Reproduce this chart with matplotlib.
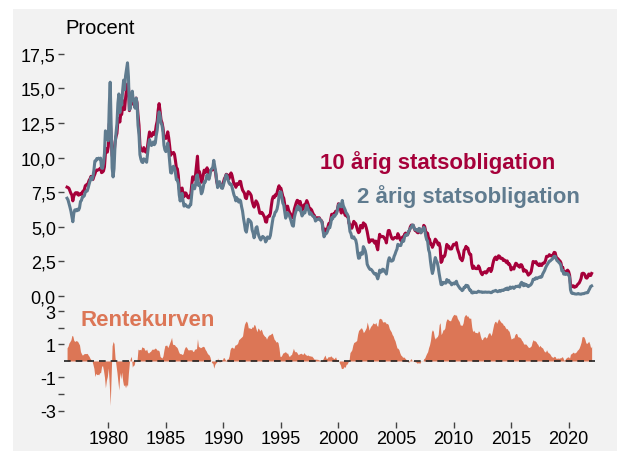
import numpy as np
import pandas as pd
import matplotlib
matplotlib.use('Agg')
import matplotlib.pyplot as plt
import matplotlib.dates as mdates
from matplotlib.patches import Rectangle

# monthly yields, jun 1976 - jan 2022 (procent)
y10 = [
    7.86, 7.83, 7.77, 7.59, 7.41, 7.29, 6.87,                                  # 1976
    7.21, 7.39, 7.46, 7.37, 7.46, 7.28, 7.33, 7.40, 7.34, 7.52, 7.58, 7.69,    # 1977
    7.96, 8.03, 8.04, 8.15, 8.35, 8.46, 8.64, 8.41, 8.42, 8.64, 8.81, 9.01,    # 1978
    9.10, 9.10, 9.12, 9.18, 9.25, 8.91, 8.95, 9.03, 9.33, 10.30, 10.65, 10.39, # 1979
    10.80, 12.41, 12.75, 11.47, 10.18, 9.78, 10.25, 11.10, 11.51, 11.75, 12.68, 12.84,
    12.57, 13.19, 13.12, 13.68, 14.10, 13.47, 14.28, 14.94, 15.32, 15.15, 13.39, 13.72,
    14.59, 14.43, 13.86, 13.87, 13.62, 14.30, 13.95, 13.06, 12.34, 10.91, 10.55, 10.54,
    10.46, 10.72, 10.51, 10.40, 10.38, 10.85, 11.38, 11.85, 11.65, 11.54, 11.69, 11.83,
    11.67, 11.84, 12.32, 12.63, 13.41, 13.90, 13.36, 12.72, 12.52, 12.16, 11.57, 11.50,
    11.38, 11.51, 11.86, 11.43, 10.85, 10.16, 10.31, 10.33, 10.37, 10.24, 9.78, 9.26,
    9.19, 8.70, 7.78, 7.30, 7.71, 7.80, 7.30, 7.17, 7.45, 7.43, 7.25, 7.11,
    7.08, 7.25, 7.25, 8.02, 8.61, 8.40, 8.45, 8.76, 9.42, 10.10, 8.86, 8.99,
    8.67, 8.21, 8.37, 8.72, 9.09, 8.92, 9.06, 9.26, 8.98, 8.80, 8.96, 9.11,
    9.09, 9.17, 9.36, 9.18, 8.86, 8.28, 8.02, 8.11, 8.19, 8.01, 7.87, 7.84,
    8.21, 8.47, 8.59, 8.79, 8.76, 8.48, 8.47, 8.75, 8.89, 8.72, 8.39, 8.08,
    8.09, 7.85, 8.11, 8.04, 8.07, 8.28, 8.27, 7.90, 7.65, 7.53, 7.42, 7.09,
    7.03, 7.34, 7.54, 7.48, 7.39, 7.26, 6.84, 6.59, 6.42, 6.59, 6.87, 6.77,
    6.60, 6.26, 5.98, 5.97, 6.04, 5.96, 5.81, 5.68, 5.36, 5.33, 5.72, 5.77,
    5.75, 5.97, 6.48, 6.97, 7.18, 7.10, 7.30, 7.24, 7.46, 7.74, 7.96, 7.81,
    7.78, 7.47, 7.20, 7.06, 6.63, 6.17, 6.28, 6.49, 6.20, 6.04, 5.93, 5.71,
    5.65, 5.81, 6.27, 6.51, 6.74, 6.91, 6.87, 6.64, 6.83, 6.53, 6.20, 6.30,
    6.58, 6.42, 6.69, 6.89, 6.71, 6.49, 6.22, 6.30, 6.21, 6.03, 5.88, 5.81,
    5.54, 5.57, 5.65, 5.64, 5.65, 5.50, 5.46, 5.34, 4.81, 4.53, 4.83, 4.65,
    4.72, 5.00, 5.23, 5.18, 5.54, 5.90, 5.79, 5.94, 5.92, 6.11, 6.03, 6.28,
    6.66, 6.52, 6.26, 5.99, 6.44, 6.10, 6.05, 5.83, 5.80, 5.74, 5.72, 5.24,
    5.16, 5.10, 4.89, 5.14, 5.39, 5.28, 5.24, 4.97, 4.73, 4.57, 4.65, 5.09,
    5.04, 4.91, 5.28, 5.21, 5.16, 4.93, 4.65, 4.26, 3.87, 3.94, 4.05, 4.03,
    4.05, 3.90, 3.81, 3.96, 3.57, 3.33, 3.98, 4.45, 4.27, 4.29, 4.30, 4.27,
    4.15, 4.08, 3.83, 4.35, 4.72, 4.73, 4.50, 4.28, 4.13, 4.10, 4.19, 4.23,
    4.22, 4.17, 4.50, 4.34, 4.14, 4.00, 4.18, 4.26, 4.20, 4.46, 4.54, 4.47,
    4.42, 4.57, 4.72, 4.99, 5.11, 5.11, 5.09, 4.88, 4.72, 4.73, 4.60, 4.56,
    4.76, 4.72, 4.56, 4.69, 4.75, 5.10, 5.00, 4.67, 4.52, 4.53, 4.15, 4.10,
    3.74, 3.74, 3.51, 3.68, 3.88, 4.10, 4.01, 3.89, 3.69, 3.81, 3.53, 2.42,
    2.52, 2.87, 2.82, 2.93, 3.29, 3.72, 3.56, 3.59, 3.40, 3.39, 3.40, 3.59,
    3.73, 3.69, 3.73, 3.85, 3.42, 3.20, 3.01, 2.70, 2.65, 2.54, 2.76, 3.29,
    3.39, 3.58, 3.41, 3.46, 3.17, 3.00, 3.00, 2.30, 1.98, 2.15, 2.01, 1.98,
    1.97, 1.97, 2.17, 2.05, 1.80, 1.62, 1.53, 1.68, 1.72, 1.75, 1.65, 1.72,
    1.91, 1.98, 1.96, 1.76, 1.93, 2.30, 2.58, 2.74, 2.81, 2.62, 2.72, 2.90,
    2.86, 2.71, 2.72, 2.71, 2.56, 2.60, 2.54, 2.42, 2.53, 2.30, 2.33, 2.21,
    1.88, 1.98, 2.04, 1.94, 2.20, 2.36, 2.32, 2.17, 2.17, 2.07, 2.26, 2.24,
    2.09, 1.78, 1.89, 1.81, 1.81, 1.64, 1.50, 1.56, 1.63, 1.76, 2.14, 2.49,
    2.43, 2.42, 2.48, 2.30, 2.30, 2.19, 2.32, 2.21, 2.20, 2.36, 2.35, 2.40,
    2.58, 2.86, 2.84, 2.87, 2.98, 2.91, 2.89, 2.89, 3.00, 3.15, 3.12, 2.83,
    2.71, 2.68, 2.57, 2.53, 2.40, 2.07, 2.06, 1.63, 1.70, 1.71, 1.81, 1.86,
    1.76, 1.50, 0.87, 0.66, 0.67, 0.73, 0.62, 0.65, 0.68, 0.79, 0.87, 0.93,
    1.08, 1.26, 1.61, 1.64, 1.62, 1.52, 1.32, 1.28, 1.37, 1.58, 1.56, 1.47,
    1.62,                                                                      # 2022
]

y2 = [
    7.06, 6.94, 6.68, 6.41, 6.13, 5.74, 5.36,
    5.96, 6.21, 6.23, 6.15, 6.27, 6.20, 6.36, 6.83, 6.90, 7.17, 7.17, 7.24,
    7.51, 7.58, 7.58, 7.79, 8.07, 8.31, 8.56, 8.40, 8.63, 9.09, 9.75, 9.76,
    9.93, 9.90, 9.96, 9.89, 9.96, 9.25, 9.22, 9.60, 10.30, 11.93, 11.82, 11.33,
    11.22, 13.82, 15.45, 12.33, 9.26, 8.60, 9.20, 10.88, 11.76, 12.44, 13.93, 14.60,
    13.26, 14.27, 13.79, 14.87, 15.60, 14.90, 15.90, 16.35, 16.85, 15.86, 13.46, 13.56,
    14.31, 14.80, 14.13, 14.11, 13.57, 14.30, 13.91, 12.34, 11.67, 10.21, 9.88, 9.68,
    9.64, 9.91, 9.84, 9.76, 9.66, 10.32, 10.90, 11.30, 11.07, 10.87, 10.96, 11.13,
    10.93, 11.05, 11.59, 11.98, 12.75, 13.30, 13.08, 12.50, 12.34, 11.85, 10.90, 10.56,
    10.43, 10.55, 11.05, 10.49, 9.75, 8.91, 8.88, 9.31, 9.37, 9.25, 8.88, 8.40,
    8.41, 8.10, 7.30, 6.86, 7.27, 7.41, 6.86, 6.49, 6.62, 6.56, 6.46, 6.43,
    6.41, 6.56, 6.58, 7.32, 8.02, 7.82, 7.74, 8.03, 8.67, 8.75, 7.99, 8.13,
    7.87, 7.38, 7.50, 7.83, 8.24, 8.22, 8.44, 8.77, 8.57, 8.43, 8.72, 9.11,
    9.20, 9.32, 9.80, 9.40, 8.98, 8.37, 7.83, 8.13, 8.26, 8.02, 7.80, 7.77,
    8.00, 8.29, 8.53, 8.76, 8.64, 8.35, 8.16, 8.06, 8.08, 7.88, 7.60, 7.31,
    7.13, 6.87, 7.10, 6.95, 6.78, 6.94, 6.87, 6.45, 6.13, 5.62, 5.20, 4.74,
    4.61, 5.05, 5.54, 5.47, 5.41, 5.30, 4.77, 4.55, 4.20, 4.43, 4.92, 5.00,
    4.60, 4.32, 4.17, 4.04, 4.18, 4.30, 4.24, 4.18, 3.90, 4.01, 4.26, 4.22,
    4.16, 4.37, 4.82, 5.28, 5.69, 5.79, 6.05, 6.10, 6.28, 6.63, 7.17, 7.52,
    7.51, 7.11, 6.72, 6.56, 6.08, 5.62, 5.81, 6.01, 5.88, 5.77, 5.56, 5.33,
    5.08, 5.04, 5.66, 5.96, 6.17, 6.43, 6.49, 6.22, 6.38, 6.06, 5.78, 5.90,
    6.07, 6.00, 6.31, 6.56, 6.34, 6.17, 5.90, 6.01, 5.91, 5.79, 5.72, 5.72,
    5.41, 5.48, 5.54, 5.56, 5.59, 5.48, 5.44, 5.31, 4.67, 4.27, 4.47, 4.48,
    4.57, 4.75, 4.97, 4.93, 5.22, 5.66, 5.57, 5.81, 5.75, 5.86, 5.95, 6.23,
    6.56, 6.65, 6.49, 6.44, 6.90, 6.53, 6.38, 6.22, 6.00, 5.93, 5.78, 5.21,
    4.65, 4.51, 4.21, 4.18, 4.27, 4.13, 4.05, 3.73, 3.11, 2.72, 2.74, 3.11,
    3.03, 3.02, 3.56, 3.42, 3.26, 2.91, 2.29, 2.13, 2.00, 1.91, 1.92, 1.84,
    1.74, 1.63, 1.57, 1.62, 1.42, 1.23, 1.47, 1.86, 1.71, 1.75, 1.93, 1.91,
    1.76, 1.74, 1.58, 2.07, 2.53, 2.76, 2.64, 2.51, 2.53, 2.58, 2.85, 3.01,
    3.22, 3.38, 3.73, 3.65, 3.64, 3.64, 3.87, 4.04, 3.95, 4.27, 4.42, 4.40,
    4.40, 4.67, 4.73, 4.89, 4.97, 5.12, 5.12, 4.90, 4.77, 4.80, 4.74, 4.67,
    4.88, 4.85, 4.57, 4.67, 4.77, 4.96, 4.82, 4.34, 4.06, 3.97, 3.34, 3.12,
    2.48, 1.97, 1.62, 1.89, 2.43, 2.77, 2.57, 2.42, 2.08, 1.61, 1.21, 0.82,
    0.81, 0.98, 0.93, 0.93, 0.92, 1.18, 1.02, 1.12, 0.96, 0.95, 0.80, 0.87,
    0.93, 0.86, 0.96, 1.06, 0.83, 0.72, 0.62, 0.52, 0.48, 0.38, 0.45, 0.62,
    0.61, 0.77, 0.70, 0.73, 0.56, 0.41, 0.41, 0.23, 0.21, 0.28, 0.25, 0.26,
    0.24, 0.28, 0.34, 0.29, 0.29, 0.29, 0.25, 0.27, 0.26, 0.28, 0.27, 0.26,
    0.27, 0.27, 0.26, 0.23, 0.25, 0.33, 0.34, 0.36, 0.40, 0.34, 0.30, 0.34,
    0.39, 0.33, 0.40, 0.42, 0.39, 0.45, 0.51, 0.47, 0.57, 0.45, 0.53, 0.64,
    0.55, 0.62, 0.64, 0.54, 0.61, 0.69, 0.67, 0.70, 0.71, 0.64, 0.88, 0.98,
    0.90, 0.73, 0.88, 0.77, 0.82, 0.73, 0.67, 0.74, 0.77, 0.84, 0.98, 1.20,
    1.21, 1.20, 1.31, 1.24, 1.30, 1.34, 1.37, 1.34, 1.38, 1.58, 1.71, 1.84,
    2.03, 2.18, 2.28, 2.38, 2.51, 2.53, 2.61, 2.65, 2.78, 2.86, 2.86, 2.68,
    2.54, 2.50, 2.41, 2.34, 2.21, 1.81, 1.84, 1.57, 1.65, 1.55, 1.61, 1.61,
    1.52, 1.33, 0.45, 0.22, 0.17, 0.19, 0.15, 0.14, 0.13, 0.14, 0.17, 0.14,
    0.13, 0.12, 0.15, 0.16, 0.16, 0.20, 0.22, 0.22, 0.24, 0.39, 0.52, 0.68,
    0.72,
]

dates = pd.date_range('1976-06-01', periods=len(y10), freq='MS')
d = pd.DataFrame({'y10': y10, 'y2': y2}, index=dates)
d['spread'] = d['y10'] - d['y2']

top_ticks = [0, 2.5, 5, 7.5, 10, 12.5, 15, 17.5]
top_labels = ['0,0', '2,5', '5,0', '7,5', '10,0', '12,5', '15,0', '17,5']
bot_ticks = [3, 2, 1, -1, -2, -3]
bot_labels = ['3', '', '1', '-1', '', '-3']

red = '#a6003a'
blue = '#5f7b8f'
orange = '#dc7656'
bg = '#f2f2f2'

plt.rcParams['font.family'] = ['Liberation Sans', 'DejaVu Sans']

fig = plt.figure(figsize=(6.17, 4.52), dpi=100)
fig.patches.append(Rectangle((13 / 617, 0), 1, 442 / 452, transform=fig.transFigure,
                             facecolor=bg, edgecolor='none', zorder=-10))

xmin = pd.Timestamp('1976-03-01')
xmax = pd.Timestamp('2022-05-01')

# top panel - yields
ax1 = fig.add_axes([0.104, 0.334, 0.861, 0.560])
ax1.set_facecolor('none')
ax1.plot(d.index, d['y10'], color=red, lw=2.2)
ax1.plot(d.index, d['y2'], color=blue, lw=2.2)
ax1.set_xlim(xmin, xmax)
ax1.set_ylim(-0.3, 18)
ax1.set_yticks(top_ticks)
ax1.set_yticklabels(top_labels)
ax1.set_xticks([])
for s in ax1.spines.values():
    s.set_visible(False)
ax1.tick_params(axis='y', length=4, width=1, color='#444444', labelsize=13, pad=2)
fig.text(65 / 617, 1 - 29 / 452, 'Procent', fontsize=14.5, va='center', ha='left')
ax1.text(0.481, 0.549, '10 årig statsobligation', transform=ax1.transAxes,
         color=red, fontsize=16, fontweight='bold', va='center')
ax1.text(0.551, 0.411, '2 årig statsobligation', transform=ax1.transAxes,
         color=blue, fontsize=16, fontweight='bold', va='center')

# bottom panel - rentekurven
ax2 = fig.add_axes([0.104, 0.064, 0.861, 0.263])
ax2.set_facecolor('none')
ax2.fill_between(d.index, d['spread'], 0, color=orange, lw=0)
ax2.axhline(0, color='#222222', lw=1.2, ls=(0, (4, 3)))
ax2.set_xlim(xmin, xmax)
ax2.set_ylim(-3.7, 3.5)
ax2.set_yticks(bot_ticks)
ax2.set_yticklabels(bot_labels)
ax2.xaxis.set_major_locator(mdates.YearLocator(5))
ax2.xaxis.set_major_formatter(mdates.DateFormatter('%Y'))
for s in ax2.spines.values():
    s.set_visible(False)
ax2.tick_params(length=4, width=1, color='#444444', labelsize=13, pad=2)
ax2.text(0.03, 0.86, 'Rentekurven', transform=ax2.transAxes,
         color=orange, fontsize=16, fontweight='bold', va='center')

fig.savefig('out.png', dpi=100)
